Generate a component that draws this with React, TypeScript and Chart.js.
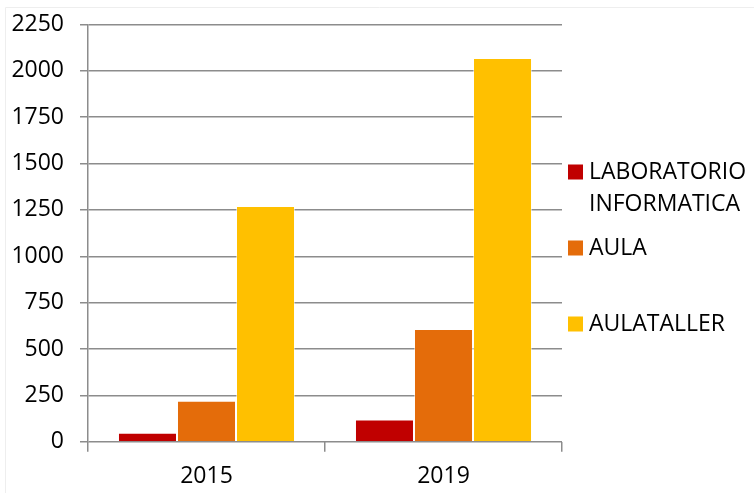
import React, { useEffect, useRef } from "react";
import { Chart, registerables } from "chart.js";

Chart.register(...registerables);

const categories = ["2015", "2019"];
const seriesNames = [["LABORATORIO", "INFORMATICA"], ["AULA"], ["AULATALLER"]];
const laboratorio = [48, 120];
const aula = [221, 608];
const aulataller = [1271, 2069];
const seriesColors = ["#C00000", "#E46C0A", "#FFC000"];

const FONT = "'Open Sans', sans-serif";

const legendPlugin = {
  id: "customLegend",
  afterDraw(chart: any) {
    const ctx = chart.ctx;
    ctx.save();
    ctx.font = `23px ${FONT}`;
    ctx.textBaseline = "middle";
    ctx.fillStyle = "#000";
    const ys = [172, 248, 324];
    chart.data.datasets.forEach((ds: any, i: number) => {
      const y = ys[i];
      ctx.fillStyle = ds.backgroundColor;
      ctx.fillRect(568, y - 7.5, 15, 15);
      ctx.fillStyle = "#000";
      const lines = seriesNames[i];
      lines.forEach((t: string, j: number) => {
        ctx.fillText(t, 589, y + j * 32);
      });
    });
    // faint outer border
    ctx.strokeStyle = "#eeeeee";
    ctx.lineWidth = 1;
    ctx.beginPath();
    ctx.moveTo(5.5, 493);
    ctx.lineTo(5.5, 7.5);
    ctx.lineTo(754, 7.5);
    ctx.stroke();
    ctx.restore();
  },
};

export default function App() {
  const ref = useRef<HTMLCanvasElement>(null);
  useEffect(() => {
    const chart = new Chart(ref.current!, {
      type: "bar",
      data: {
        labels: categories,
        datasets: [
          { label: seriesNames[0].join(" "), data: laboratorio, backgroundColor: seriesColors[0] },
          { label: seriesNames[1].join(" "), data: aula, backgroundColor: seriesColors[1] },
          { label: seriesNames[2].join(" "), data: aulataller, backgroundColor: seriesColors[2] },
        ].map((d) => ({
          ...d,
          borderColor: "rgba(255,255,255,0.5)",
          borderWidth: 1,
          barPercentage: 1,
          categoryPercentage: 0.747,
        })),
      },
      options: {
        responsive: false,
        animation: false,
        layout: { padding: { left: 0, right: 192, top: 24.5, bottom: 2.3 } },
        plugins: { legend: { display: false }, tooltip: { enabled: false } },
        scales: {
          x: {
            afterFit(scale: any) {
              scale.height = 49;
              scale.paddingLeft = 0;
              scale.paddingRight = 0;
            },
            grid: {
              display: true,
              offset: true,
              drawOnChartArea: false,
              drawTicks: true,
              tickLength: 10,
              color: "#8c8c8c",
              lineWidth: 1.5,
            },
            border: { display: false },
            ticks: { color: "#000", font: { family: FONT, size: 23 }, padding: 11.3 },
          },
          y: {
            min: 0,
            max: 2250,
            afterFit(scale: any) {
              scale.width = 88;
              scale.paddingTop = 0;
              scale.paddingBottom = 0;
            },
            ticks: {
              stepSize: 250,
              color: "#000",
              font: { family: FONT, size: 23, lineHeight: 1 },
              padding: 16,
              callback: (v: any) => String(v),
            },
            grid: { color: "#8c8c8c", lineWidth: 1.5, tickLength: 8 },
            border: { display: true, color: "#8c8c8c", width: 1.5 },
          },
        },
      },
      plugins: [legendPlugin],
    } as any);
    return () => chart.destroy();
  }, []);
  return (
    <div style={{ position: "absolute", left: 0, top: 0, width: 754, height: 493, background: "#fff" }}>
      <canvas ref={ref} width={754} height={493} />
    </div>
  );
}
